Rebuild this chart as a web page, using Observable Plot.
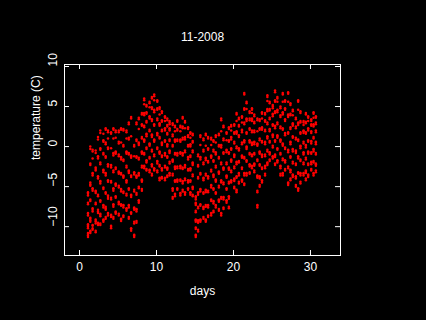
<!DOCTYPE html>
<html>
<head>
<meta charset="utf-8">
<script src="https://cdn.jsdelivr.net/npm/d3@7"></script>
<script src="https://cdn.jsdelivr.net/npm/@observablehq/plot@0.6"></script>
<style>
  html, body { margin: 0; padding: 0; background: #000; }
  #chart { width: 426px; height: 320px; }
</style>
</head>
<body>
<div id="chart"></div>
<script>
// Observation times (days) — three per day
const colDay = [
  1.1,1.4,1.7, 2.1,2.4,2.7, 3.1,3.4,3.7, 4.1,4.4,4.7, 5.1,5.4,5.7,
  6.1,6.4,6.7, 7.1,7.4,7.7, 8.1,8.4,8.7, 9.1,9.4,9.7, 10.1,10.4,10.7,
  11.1,11.4,11.7, 12.1,12.4,12.7, 13.1,13.4,13.7, 14.1,14.4,14.7, 15.1,15.4,15.7,
  16.1,16.4,16.7, 17.1,17.4,17.7, 18.1,18.4,18.7, 19.1,19.4,19.7, 20.1,20.4,20.7,
  21.1,21.4,21.7, 22.1,22.4,22.7, 23.1,23.4,23.7, 24.1,24.4,24.7, 25.1,25.4,25.7,
  26.1,26.4,26.7, 27.1,27.4,27.7, 28.1,28.4,28.7, 29.1,29.4,29.7, 30.1,30.4,30.7
];
// Temperatures (C) read at each observation time
const colTemps = [
  "-11.3 -11.1 -10.9 -10.8 -10.2 -10.0 -9.9 -9.7 -8.6 -8.4 -8.3 -7.2 -7.0 -6.1 -5.9 -5.7",
  "-10.8 -10.6 -10.5 -9.4 -9.2 -9.0 -8.9 -6.8 -6.6 -4.9 -4.7 -4.5 -2.3 -2.1 -0.3 0.0",
  "-10.4 -10.2 -9.9 -9.8 -8.1 -7.9 -7.7 -5.5 -5.3 -5.2 -3.6 -3.4 -3.3 -1.5 -0.6 -0.4",
  "-10.7 -10.5 -9.6 -9.4 -9.3 -9.1 -7.2 -7.0 -5.8 -5.6 -5.5 -3.0 -2.8 -2.6 -0.8 -0.5",
  "-9.8 -9.6 -9.5 -8.3 -8.1 -7.9 -6.2 -6.0 -4.0 -3.8 -3.7 -1.5 -1.3 -1.2 0.9 1.2",
  "-9.8 -9.6 -8.7 -8.5 -8.4 -6.9 -6.7 -4.6 -4.4 -4.3 -2.2 -2.0 -0.4 -0.2 1.7 2.0",
  "-9.4 -9.2 -9.1 -7.6 -7.4 -7.3 -5.3 -5.1 -3.2 -3.0 -2.9 -1.0 -0.8 0.6 0.8 1.6",
  "-9.0 -8.8 -7.9 -7.7 -7.5 -5.9 -5.7 -3.6 -3.4 -3.3 -1.4 -1.2 0.3 0.5 2.1 2.3",
  "-8.6 -8.4 -8.3 -6.5 -6.3 -6.1 -4.4 -4.2 -2.5 -2.3 -2.2 -0.3 -0.1 1.0 1.8 2.0",
  "-10.2 -10.0 -9.9 -8.8 -8.6 -8.5 -6.6 -6.4 -4.5 -4.3 -2.6 -2.4 -2.3 -0.2 1.6 1.8",
  "-9.0 -8.8 -7.5 -7.3 -7.2 -5.5 -5.3 -5.2 -3.2 -3.0 -1.1 -0.9 -0.8 1.0 2.1 2.3",
  "-8.4 -8.2 -8.1 -6.4 -6.2 -4.9 -4.7 -4.6 -2.8 -2.6 -0.9 -0.7 -0.6 1.1 1.8 2.0",
  "-8.6 -8.4 -7.2 -7.0 -6.9 -5.1 -4.9 -3.4 -3.2 -3.1 -1.2 -1.0 0.4 0.6 1.8 2.0",
  "-9.3 -9.1 -9.0 -7.4 -7.2 -5.6 -5.4 -5.3 -3.5 -3.3 -1.6 -1.4 -1.3 0.5 2.1 2.3",
  "-8.8 -8.6 -7.6 -7.4 -7.3 -5.8 -5.6 -3.9 -3.7 -3.6 -1.8 -1.6 0.0 0.2 2.0 2.2",
  "-8.0 -7.8 -7.7 -6.1 -5.9 -4.5 -4.3 -4.2 -2.6 -2.4 -0.9 -0.7 -0.6 1.0 1.8 2.0",
  "-9.0 -8.8 -7.6 -7.4 -7.3 -5.4 -5.2 -3.3 -3.1 -3.0 -1.0 -0.8 0.9 1.1 2.8 3.0",
  "-10.5 -10.3 -10.2 -8.4 -8.2 -6.3 -6.1 -6.0 -3.8 -3.6 -1.4 -1.2 -1.1 1.3 3.5 3.7",
  "-11.3 -11.1 -11.0 -9.6 -9.4 -7.9 -7.7 -7.6 -5.6 -5.4 -3.5 -3.3 -3.2 -1.2 0.0 0.2",
  "-9.5 -9.3 -8.1 -7.9 -7.8 -6.0 -5.8 -3.9 -3.7 -3.6 -1.4 -1.2 0.7 0.9 2.8 3.0",
  "-7.0 -6.8 -6.7 -5.2 -5.0 -3.6 -3.4 -3.3 -1.6 -1.4 0.2 0.4 0.5 2.2 3.4 3.6",
  "-5.5 -5.3 -4.4 -4.2 -4.1 -2.6 -2.4 -0.9 -0.7 -0.6 1.0 1.2 2.6 2.8 4.0 4.2",
  "-2.7 -2.5 -2.4 -1.0 -0.8 0.6 0.8 0.9 2.4 2.6 3.9 4.1 4.2 5.3 5.8 6.0",
  "-3.0 -2.8 -2.0 -1.8 -1.7 -0.3 -0.1 1.3 1.5 1.6 3.0 3.2 4.1 4.3 5.0 5.2",
  "-3.2 -3.0 -2.9 -1.5 -1.3 0.1 0.3 0.4 1.9 2.1 3.5 3.7 3.8 4.9 5.4 5.6",
  "-3.6 -3.4 -2.5 -2.3 -2.2 -0.6 -0.4 1.2 1.4 1.5 3.2 3.4 4.7 4.9 6.0 6.2",
  "-3.0 -2.8 -2.7 -1.2 -1.0 0.6 0.8 0.9 2.6 2.8 4.3 4.5 4.6 5.8 6.3 6.5",
  "-3.2 -3.0 -2.1 -1.9 -1.8 -0.3 -0.1 1.4 1.6 1.7 3.3 3.5 4.6 4.8 5.6 5.8",
  "-4.2 -4.0 -3.9 -2.5 -2.3 -0.9 -0.7 -0.6 1.0 1.2 2.6 2.8 2.9 4.0 4.7 4.9",
  "-4.0 -3.8 -3.0 -2.8 -2.7 -1.3 -1.1 0.2 0.4 0.5 1.9 2.1 3.1 3.3 4.2 4.4",
  "-4.2 -4.0 -3.9 -2.6 -2.4 -1.1 -0.9 -0.8 0.6 0.8 2.0 2.2 2.3 3.2 3.6 3.8",
  "-3.8 -3.6 -2.9 -2.7 -2.6 -1.4 -1.2 0.0 0.2 0.3 1.5 1.7 2.5 2.7 3.3 3.5",
  "-3.6 -3.4 -3.3 -2.1 -1.9 -0.8 -0.6 -0.5 0.7 0.9 2.0 2.2 2.3 2.8 3.0 3.2",
  "-6.5 -6.3 -5.5 -5.3 -5.2 -3.6 -3.4 -1.9 -1.7 -1.6 0.0 0.2 1.3 1.5 2.7 2.9",
  "-6.2 -6.0 -5.9 -4.4 -4.2 -2.8 -2.6 -2.5 -1.0 -0.8 0.6 0.8 0.9 1.9 2.4 2.6",
  "-5.4 -5.2 -4.4 -4.2 -4.1 -2.7 -2.5 -1.1 -0.9 -0.8 0.7 0.9 2.0 2.2 3.1 3.3",
  "-6.1 -5.9 -5.8 -4.3 -4.1 -2.7 -2.5 -2.4 -0.9 -0.7 0.6 0.8 0.9 1.9 2.4 2.6",
  "-5.6 -5.4 -4.6 -4.4 -4.3 -2.8 -2.6 -1.1 -0.9 -0.8 0.9 1.1 2.3 2.5 3.5 3.7",
  "-6.0 -5.8 -5.7 -4.2 -4.0 -2.6 -2.4 -2.3 -0.7 -0.5 0.9 1.1 1.2 2.3 3.0 3.2",
  "-5.4 -5.2 -4.5 -4.3 -4.2 -3.0 -2.8 -1.6 -1.4 -1.3 0.0 0.2 1.2 1.4 2.2 2.4",
  "-6.0 -5.8 -5.7 -4.4 -4.2 -3.0 -2.8 -2.7 -1.3 -1.1 0.0 0.2 0.3 1.1 1.6 1.8",
  "-6.2 -6.0 -5.3 -5.1 -5.0 -3.7 -3.5 -2.3 -2.1 -2.0 -0.7 -0.5 0.5 0.7 1.4 1.6",
  "-11.3 -11.1 -11.0 -10.3 -10.1 -9.4 -9.2 -9.1 -8.2 -8.0 -7.3 -7.1 -7.0 -6.6 -6.4 -6.2",
  "-10.6 -10.4 -9.5 -9.3 -9.2 -7.7 -7.5 -6.0 -5.8 -5.7 -4.0 -3.8 -2.5 -2.3 -1.2 -1.0",
  "-9.4 -9.2 -9.1 -7.4 -7.2 -5.6 -5.4 -5.3 -3.5 -3.3 -1.6 -1.4 -1.3 0.2 1.2 1.4",
  "-9.0 -8.8 -7.8 -7.6 -7.5 -5.9 -5.7 -4.2 -4.0 -3.9 -2.2 -2.0 -0.6 -0.4 0.8 1.0",
  "-9.4 -9.2 -9.1 -7.5 -7.3 -5.7 -5.5 -5.4 -3.6 -3.4 -1.7 -1.5 -1.4 0.1 1.4 1.6",
  "-8.8 -8.6 -7.6 -7.4 -7.3 -5.7 -5.5 -4.0 -3.8 -3.7 -2.0 -1.8 -0.4 -0.2 1.0 1.2",
  "-8.6 -8.4 -8.3 -6.8 -6.6 -5.1 -4.9 -4.8 -3.1 -2.9 -1.4 -1.2 -1.1 0.2 0.9 1.1",
  "-8.2 -8.0 -7.1 -6.9 -6.8 -5.4 -5.2 -3.8 -3.6 -3.5 -1.9 -1.7 -0.6 -0.4 0.6 0.8",
  "-7.6 -7.4 -7.3 -5.9 -5.7 -4.4 -4.2 -4.1 -2.6 -2.4 -1.0 -0.8 -0.7 0.5 1.2 1.4",
  "-8.0 -7.8 -6.9 -6.7 -6.6 -5.1 -4.9 -3.4 -3.2 -3.1 -1.5 -1.3 0.0 0.2 1.4 1.6",
  "-8.6 -8.4 -8.3 -6.5 -6.3 -4.5 -4.3 -4.2 -2.2 -2.0 -0.1 0.1 0.2 1.9 3.3 3.5",
  "-7.8 -7.6 -6.6 -6.4 -6.3 -4.7 -4.5 -2.9 -2.7 -2.6 -0.9 -0.7 0.8 1.0 2.4 2.6",
  "-7.0 -6.8 -6.7 -5.4 -5.2 -3.9 -3.7 -3.6 -2.2 -2.0 -0.7 -0.5 -0.4 0.8 1.6 1.8",
  "-7.7 -7.5 -6.5 -6.3 -6.2 -4.6 -4.4 -2.9 -2.7 -2.6 -0.9 -0.7 0.6 0.8 2.2 2.4",
  "-4.5 -4.3 -4.2 -3.2 -3.0 -1.9 -1.7 -1.6 -0.4 -0.2 0.9 1.1 1.2 2.0 2.5 2.7",
  "-5.2 -5.0 -4.3 -4.1 -4.0 -2.7 -2.5 -1.3 -1.1 -1.0 0.4 0.6 1.6 1.8 2.6 2.8",
  "-5.7 -5.5 -5.4 -3.9 -3.7 -2.2 -2.0 -1.9 -0.2 0.0 1.6 1.8 1.9 3.2 4.0 4.2",
  "-4.6 -4.4 -3.6 -3.4 -3.3 -2.0 -1.8 -0.5 -0.3 -0.2 1.2 1.4 2.5 2.7 3.4 3.6",
  "-4.4 -4.2 -4.1 -2.8 -2.6 -1.4 -1.2 -1.1 0.3 0.5 1.8 2.0 2.1 3.0 3.6 3.8",
  "-4.8 -4.6 -3.6 -3.4 -3.3 -1.5 -1.3 0.5 0.7 0.8 2.8 3.0 4.6 4.8 6.5 6.7",
  "-3.6 -3.4 -3.3 -1.9 -1.7 -0.3 -0.1 0.0 1.6 1.8 3.2 3.4 3.5 4.7 5.4 5.6",
  "-3.4 -3.2 -2.5 -2.3 -2.2 -1.0 -0.8 0.5 0.7 0.8 2.1 2.3 3.3 3.5 4.2 4.4",
  "-2.7 -2.5 -2.4 -1.2 -1.0 0.2 0.4 0.5 1.8 2.0 3.2 3.4 3.5 4.2 4.6 4.8",
  "-3.2 -3.0 -2.4 -2.2 -2.1 -1.0 -0.8 0.3 0.5 0.6 1.8 2.0 2.9 3.1 3.8 4.0",
  "-7.6 -7.4 -7.3 -5.7 -5.5 -3.9 -3.7 -3.6 -1.8 -1.6 0.1 0.3 0.4 1.9 3.3 3.5",
  "-5.0 -4.8 -4.0 -3.8 -3.7 -2.4 -2.2 -0.9 -0.7 -0.6 0.8 1.0 2.1 2.3 3.2 3.4",
  "-4.5 -4.3 -4.2 -2.8 -2.6 -1.3 -1.1 -1.0 0.5 0.7 2.1 2.3 2.4 3.5 4.1 4.3",
  "-3.6 -3.4 -2.7 -2.5 -2.4 -1.2 -1.0 0.3 0.5 0.6 1.9 2.1 3.1 3.3 4.0 4.2",
  "-2.3 -2.1 -2.0 -0.6 -0.4 1.0 1.2 1.3 2.8 3.0 4.4 4.6 4.7 5.7 6.2 6.4",
  "-1.8 -1.6 -1.0 -0.8 -0.7 0.5 0.7 1.9 2.1 2.2 3.4 3.6 4.5 4.7 5.4 5.6",
  "-1.5 -1.3 -1.2 -0.1 0.1 1.2 1.4 1.5 2.6 2.8 3.8 4.0 4.1 4.8 5.0 5.2",
  "-2.3 -2.1 -1.3 -1.1 -1.0 0.6 0.8 2.3 2.5 2.6 4.2 4.4 5.6 5.8 6.8 7.0",
  "-2.0 -1.8 -1.7 -0.4 -0.2 1.1 1.3 1.4 2.8 3.0 4.3 4.5 4.6 5.6 6.0 6.2",
  "-3.6 -3.4 -2.7 -2.5 -2.4 -1.0 -0.8 0.6 0.8 0.9 2.3 2.5 3.7 3.9 4.8 5.0",
  "-3.6 -3.4 -3.3 -1.7 -1.5 0.1 0.3 0.4 2.1 2.3 4.0 4.2 4.3 5.6 6.5 6.7",
  "-3.0 -2.8 -2.0 -1.8 -1.7 -0.3 -0.1 1.4 1.6 1.7 3.2 3.4 4.6 4.8 5.6 5.8",
  "-4.8 -4.6 -4.5 -2.7 -2.5 -0.7 -0.5 -0.4 1.6 1.8 3.7 3.9 4.0 5.6 6.6 6.8",
  "-4.2 -4.0 -3.2 -3.0 -2.9 -1.4 -1.2 0.3 0.5 0.6 2.2 2.4 3.9 4.1 5.2 5.4",
  "-3.8 -3.6 -3.5 -2.1 -1.9 -0.6 -0.4 -0.3 1.1 1.3 2.6 2.8 2.9 3.9 4.4 4.6",
  "-5.0 -4.8 -4.0 -3.8 -3.7 -2.3 -2.1 -0.8 -0.6 -0.5 0.9 1.1 2.3 2.5 3.4 3.6",
  "-5.5 -5.3 -5.2 -3.4 -3.2 -1.5 -1.3 -1.2 0.7 0.9 2.7 2.9 3.0 4.6 5.6 5.8",
  "-4.6 -4.4 -3.6 -3.4 -3.3 -1.8 -1.6 -0.2 0.0 0.1 1.6 1.8 3.0 3.2 4.2 4.4",
  "-3.6 -3.4 -3.3 -2.2 -2.0 -1.0 -0.8 -0.7 0.4 0.6 1.7 1.9 2.0 2.7 3.0 3.2",
  "-4.2 -4.0 -3.3 -3.1 -3.0 -1.6 -1.4 -0.1 0.1 0.2 1.6 1.8 2.9 3.1 4.0 4.2",
  "-3.8 -3.6 -3.5 -2.3 -2.1 -0.9 -0.7 -0.6 0.6 0.8 2.0 2.2 2.3 3.2 3.6 3.8",
  "-3.0 -2.8 -2.2 -2.0 -1.9 -0.9 -0.7 0.4 0.6 0.7 1.7 1.9 2.6 2.8 3.2 3.4",
  "-3.6 -3.4 -3.3 -2.0 -1.8 -0.6 -0.4 -0.3 1.0 1.2 2.5 2.7 2.8 3.6 4.1 4.3",
  "-3.2 -3.0 -2.4 -2.2 -2.1 -1.0 -0.8 0.3 0.5 0.6 1.8 2.0 2.8 3.0 3.6 3.8"
];
const xTicks = [0, 10, 20, 30];
const yTicks = [-10, -5, 0, 5, 10];

const data = colDay.flatMap((day, i) =>
  colTemps[i].split(" ").map(v => ({day, temp: +v}))
);

const fmt = d => String(d).replace("-", "\u2212");
const W = 426, H = 320;
const mL = 64, mR = 86, mT = 64, mB = 65;
const fw = W - mL - mR, fh = H - mT - mB;
const tick = 5;

const chart = Plot.plot({
  width: W, height: H,
  marginLeft: mL, marginRight: mR, marginTop: mT, marginBottom: mB,
  style: {background: "#000", color: "#fff", fontFamily: "Liberation Sans, Arial, sans-serif", fontSize: "12px"},
  x: {domain: [-1.95, 33.9], axis: null},
  y: {domain: [-13.6, 10.25], axis: null},
  marks: [
    Plot.dot(data, {x: "day", y: "temp", r: 1.25, fill: "#ff0000"}),
    Plot.frame({stroke: "#fff", strokeWidth: 1}),
    Plot.ruleX(xTicks, {x: d => d, insetTop: fh - tick, stroke: "#fff"}),
    Plot.ruleX(xTicks, {x: d => d, insetBottom: fh - tick, stroke: "#fff"}),
    Plot.ruleY(yTicks, {y: d => d, insetRight: fw - tick, stroke: "#fff"}),
    Plot.ruleY(yTicks, {y: d => d, insetLeft: fw - tick, stroke: "#fff"}),
    Plot.text(xTicks, {x: d => d, text: fmt, frameAnchor: "bottom", lineAnchor: "middle", dy: 12, fontSize: 12, fill: "#fff"}),
    Plot.text(yTicks, {y: d => d, text: fmt, frameAnchor: "left", lineAnchor: "middle", dx: -11, rotate: -90, fontSize: 12, fill: "#fff"}),
    Plot.text(["days"], {frameAnchor: "bottom", lineAnchor: "middle", dy: 36, fontSize: 12, fill: "#fff"}),
    Plot.text(["temperature (C)"], {frameAnchor: "left", lineAnchor: "middle", dx: -28, rotate: -90, fontSize: 12, fill: "#fff"}),
    Plot.text(["11-2008"], {frameAnchor: "top", lineAnchor: "middle", dy: -27, fontSize: 12, fill: "#fff"})
  ]
});
document.getElementById("chart").appendChild(chart);
</script>
</body>
</html>
